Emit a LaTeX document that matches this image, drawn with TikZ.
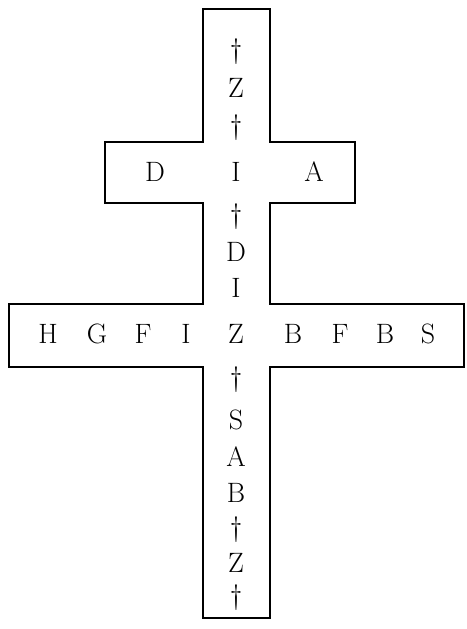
\documentclass[tikz,border=0pt]{standalone}
\begin{document}
\begin{tikzpicture}[x=1pt,y=-1pt,
  outline/.style={line width=1.8pt,line join=miter},
  letter/.style={inner sep=0pt,font=\fontsize{28}{30}\selectfont}]
\useasboundingbox (0,0) rectangle (466,629);
\draw[outline] (203,9) -- (270,9) -- (270,142) -- (355,142) -- (355,203) -- (270,203)
  -- (270,304) -- (464,304) -- (464,367) -- (270,367) -- (270,618) -- (203,618)
  -- (203,367) -- (9,367) -- (9,304) -- (203,304) -- (203,203) -- (105,203)
  -- (105,142) -- (203,142) -- cycle;
% vertical column
\node[letter] (v1) at (236,52) {\textdagger};
\node[letter] (v2) at (236,88) {Z};
\node[letter] (v3) at (236,128) {\textdagger};
\node[letter] (v4) at (236,172) {I};
\node[letter] (v5) at (236,217) {\textdagger};
\node[letter] (v6) at (236,252) {D};
\node[letter] (v7) at (236,288) {I};
\node[letter] (v8) at (236,334) {Z};
\node[letter] (v9) at (236,380) {\textdagger};
\node[letter] (v10) at (236,420) {S};
\node[letter] (v11) at (236,457) {A};
\node[letter] (v12) at (236,493) {B};
\node[letter] (v13) at (236,530) {\textdagger};
\node[letter] (v14) at (236,563) {Z};
\node[letter] (v15) at (236,598) {\textdagger};
% upper crossbar
\node[letter] (ud) at (155,172) {D};
\node[letter] (ua) at (314,172) {A};
% lower crossbar
\node[letter] (lh) at (48,334) {H};
\node[letter] (lg) at (97,334) {G};
\node[letter] (lf) at (143,334) {F};
\node[letter] (li) at (186,334) {I};
\node[letter] (lb1) at (293,334) {B};
\node[letter] (lf2) at (340,334) {F};
\node[letter] (lb2) at (385,334) {B};
\node[letter] (ls) at (428,334) {S};
\end{tikzpicture}
\end{document}
